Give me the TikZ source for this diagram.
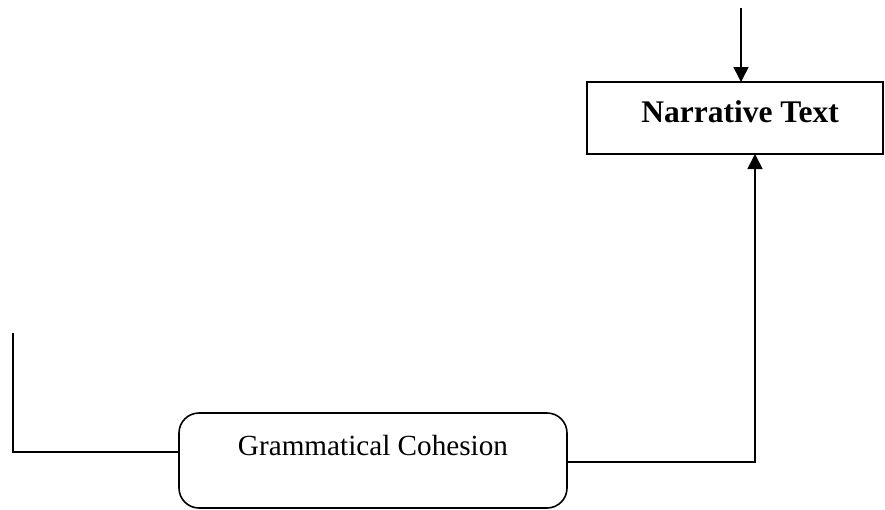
\documentclass[tikz,border=0pt]{standalone}
\usepackage{fontspec}
\setmainfont{Liberation Serif}
\usetikzlibrary{arrows.meta}
\begin{document}
\begin{tikzpicture}[x=1pt,y=-1pt,
  line width=1.6pt,
  plainbox/.style={draw,rectangle,inner sep=0pt,outer sep=0pt,minimum width=296pt,minimum height=72pt},
  roundbox/.style={draw,rectangle,rounded corners=20pt,inner sep=0pt,outer sep=0pt,minimum width=388pt,minimum height=95pt},
  boxlabel/.style={inner sep=0pt,anchor=base},
  link/.style={line width=1.6pt},
  arr/.style={link,-{Triangle[length=15pt,width=15pt]}}]
  \useasboundingbox (0,0) rectangle (885,509);

  % boxes
  \node[plainbox] (nt) at (735,118) {};
  \node[roundbox] (gc) at (373,460.5) {};

  % their texts
  \node[boxlabel,font=\fontsize{31.5}{36}\selectfont\bfseries] (ntl) at (740,122) {Narrative Text};
  \node[boxlabel,font=\fontsize{29.2}{34}\selectfont] (gcl) at (373,455) {Grammatical Cohesion};

  % connectors
  \coordinate (tp) at (741,8);
  \coordinate (lt) at (13,333);
  \coordinate (lc) at (13,452);
  \coordinate (rc) at (755,462);

  \draw[arr] (tp) -- (tp |- nt.north);
  \draw[link] (lt) -- (lc) -- (lc -| gc.west);
  \draw[arr] (rc -| gc.east) -- (rc) -- (rc |- nt.south);
\end{tikzpicture}
\end{document}
